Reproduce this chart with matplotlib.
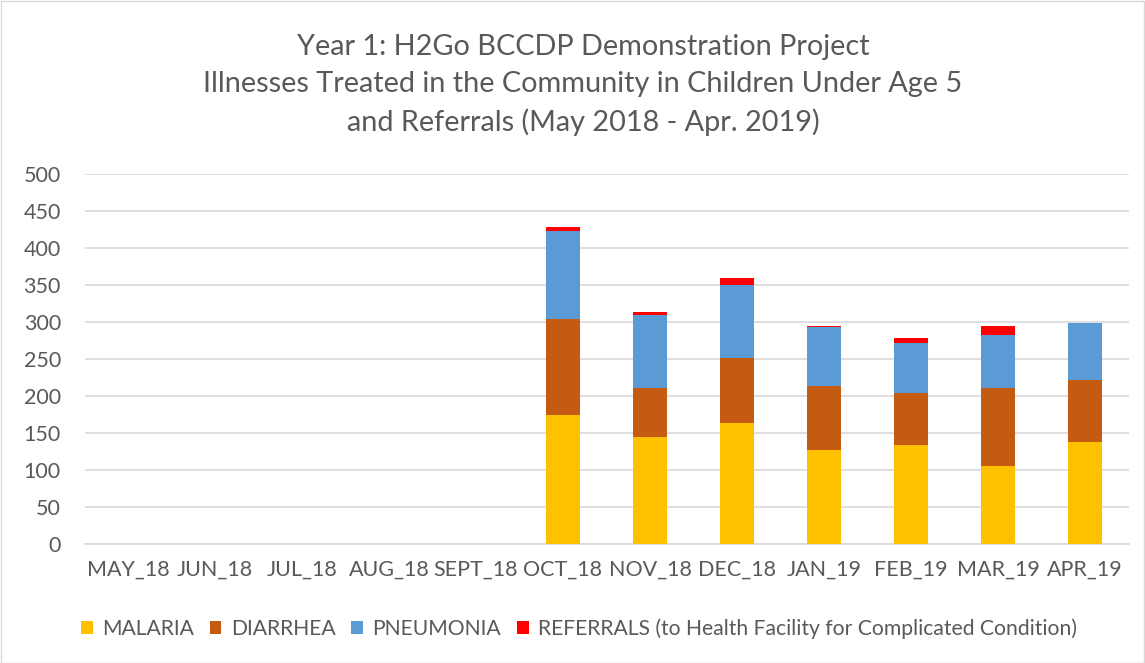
import matplotlib
matplotlib.use("Agg")
import matplotlib.pyplot as plt
import numpy as np
from matplotlib.patches import Rectangle

months = ["MAY_18", "JUN_18", "JUL_18", "AUG_18", "SEPT_18", "OCT_18",
          "NOV_18", "DEC_18", "JAN_19", "FEB_19", "MAR_19", "APR_19"]
malaria = [0, 0, 0, 0, 0, 174, 144, 163, 127, 134, 105, 138]
diarrhea = [0, 0, 0, 0, 0, 130, 67, 89, 86, 70, 106, 84]
pneumonia = [0, 0, 0, 0, 0, 119, 98, 98, 80, 68, 71, 76]
referrals = [0, 0, 0, 0, 0, 5, 5, 9, 2, 6, 12, 1]
series_names = ["MALARIA", "DIARRHEA", "PNEUMONIA",
                "REFERRALS (to Health Facility for Complicated Condition)"]
colors = ["#FFC000", "#C55A11", "#5B9BD5", "#FF0000"]
yticks = [0, 50, 100, 150, 200, 250, 300, 350, 400, 450, 500]

plt.rcParams['font.family'] = ['Lato', 'DejaVu Sans']
txt = "#595959"

fig = plt.figure(figsize=(11.45, 6.63), dpi=100)
W, H = 1145, 663
ax = fig.add_axes([84.5 / W, 1 - 544 / H, (1128.5 - 84.5) / W, (544 - 174) / H])

x = np.arange(len(months))
bottom = np.zeros(len(months))
for vals, c, name in zip([malaria, diarrhea, pneumonia, referrals], colors, series_names):
    v = np.array(vals, dtype=float)
    ax.bar(x, v, 0.4, bottom=bottom, color=c, label=name, zorder=3,
           edgecolor="none")
    bottom += v

ax.set_xlim(-0.5, len(months) - 0.5)
ax.set_ylim(0, 500)
ax.set_yticks(yticks)
ax.set_yticklabels([str(t) for t in yticks], fontsize=15.5, color=txt)
ax.set_xticks(x)
ax.set_xticklabels(months, fontsize=15.5, color=txt)
ax.tick_params(axis='both', length=0)
ax.tick_params(axis='y', pad=17)
ax.tick_params(axis='x', pad=11)
ax.grid(axis='y', color="#D9D9D9", linewidth=1.2, zorder=0)
for s in ["top", "right", "left"]:
    ax.spines[s].set_visible(False)
ax.spines["bottom"].set_color("#D9D9D9")
ax.spines["bottom"].set_linewidth(1.2)
ax.spines["bottom"].set_zorder(0)

fig.text(583 / W, 1 - 85 / H,
         "Year 1: H2Go BCCDP Demonstration Project\n"
         "Illnesses Treated in the Community in Children Under Age 5\n"
         "and Referrals (May 2018 - Apr. 2019)",
         ha="center", va="center", fontsize=20.8, color=txt, linespacing=1.5)

leg = fig.legend(loc="center left", bbox_to_anchor=(62 / W, 1 - 629 / H), ncol=4,
                 frameon=False, fontsize=15.2, handlelength=0.55, handleheight=0.55,
                 handletextpad=0.45, columnspacing=0.75, labelcolor=txt)

fig.patches.append(Rectangle((0.5 / W, 0.5 / H), 1 - 1.5 / W, 1 - 1.5 / H,
                             transform=fig.transFigure, fill=False,
                             edgecolor="#D9D9D9", linewidth=1))

fig.savefig("out.png", dpi=100)
